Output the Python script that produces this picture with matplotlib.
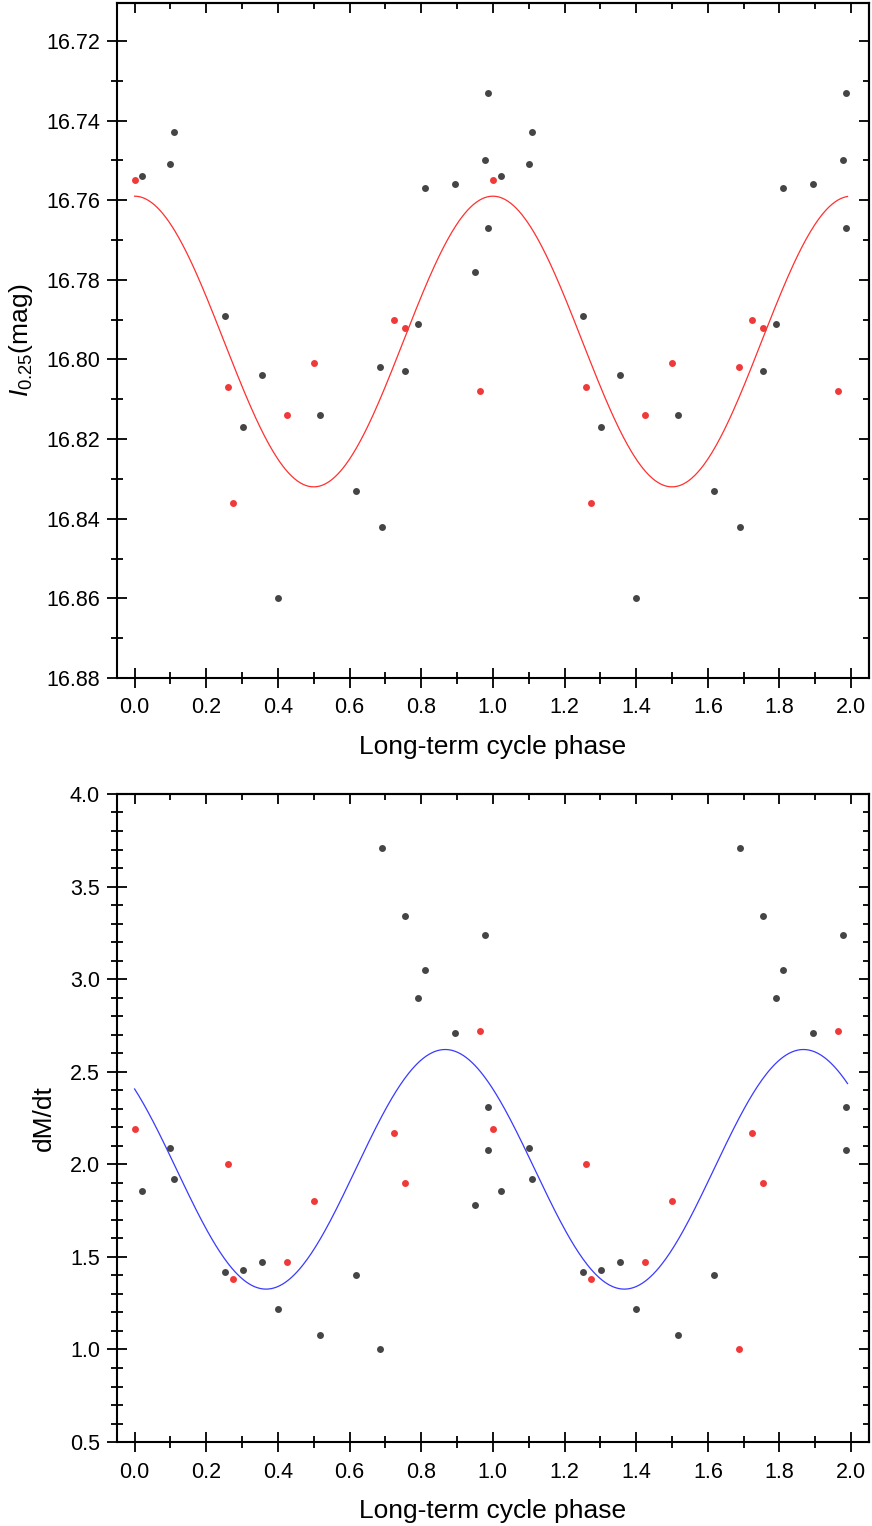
import matplotlib
matplotlib.use("Agg")
import matplotlib.pyplot as plt
from matplotlib.ticker import MultipleLocator
import numpy as np

plt.rcParams['font.family'] = ['Liberation Sans', 'DejaVu Sans']
plt.rcParams['mathtext.fontset'] = 'custom'
plt.rcParams['mathtext.rm'] = 'Liberation Sans'
plt.rcParams['mathtext.it'] = 'Liberation Sans:italic'

# black points: long-term phase, I_0.25 magnitude, dM/dt
phase_black = [0.022, 0.100, 0.109, 0.251, 0.302, 0.355, 0.399, 0.517, 0.617, 0.686,
               0.690, 0.754, 0.791, 0.810, 0.894, 0.950, 0.978, 0.986, 0.986,
               1.022, 1.100, 1.109, 1.251, 1.302, 1.355, 1.399, 1.517, 1.617,
               1.690, 1.754, 1.791, 1.810, 1.894, 1.978, 1.986, 1.986]
mag_black = [16.754, 16.751, 16.743, 16.789, 16.817, 16.804, 16.860, 16.814, 16.833, 16.802,
             16.842, 16.803, 16.791, 16.757, 16.756, 16.778, 16.750, 16.733, 16.767,
             16.754, 16.751, 16.743, 16.789, 16.817, 16.804, 16.860, 16.814, 16.833,
             16.842, 16.803, 16.791, 16.757, 16.756, 16.750, 16.733, 16.767]
dmdt_black = [1.855, 2.09, 1.92, 1.42, 1.43, 1.47, 1.22, 1.08, 1.40, 1.00,
              3.71, 3.34, 2.90, 3.05, 2.71, 1.78, 3.24, 2.31, 2.08,
              1.855, 2.09, 1.92, 1.42, 1.43, 1.47, 1.22, 1.08, 1.40,
              3.71, 3.34, 2.90, 3.05, 2.71, 3.24, 2.31, 2.08]

# red points
phase_red = [0.000, 0.260, 0.274, 0.425, 0.500, 0.723, 0.754, 0.964, 1.000,
             1.260, 1.274, 1.425, 1.500, 1.686, 1.723, 1.754, 1.964]
mag_red = [16.755, 16.807, 16.836, 16.814, 16.801, 16.790, 16.792, 16.808, 16.755,
           16.807, 16.836, 16.814, 16.801, 16.802, 16.790, 16.792, 16.808]
dmdt_red = [2.19, 2.00, 1.38, 1.47, 1.80, 2.17, 1.90, 2.72, 2.19,
            2.00, 1.38, 1.47, 1.80, 1.00, 2.17, 1.90, 2.72]

# sine fits (mean, semi-amplitude, phase of maximum)
mag_fit = (16.7955, -0.0365, 0.0)
dmdt_fit = (1.973, 0.647, 0.867)

xticks = [0.0, 0.2, 0.4, 0.6, 0.8, 1.0, 1.2, 1.4, 1.6, 1.8, 2.0]

c_black = '#454545'
c_red = '#f03a3a'

fig = plt.figure(figsize=(8.72, 15.26), dpi=100)
ax1 = fig.add_axes([0.1338, 0.5557, 0.8628, 0.4423])
ax2 = fig.add_axes([0.1338, 0.0550, 0.8628, 0.4247])

ph = np.linspace(0, 1.99, 500)


def style(ax, ymaj, ymin):
    ax.set_xlim(-0.05, 2.05)
    ax.set_xticks(xticks)
    ax.set_xticklabels(['%.1f' % t for t in xticks])
    ax.xaxis.set_minor_locator(MultipleLocator(0.1))
    ax.yaxis.set_major_locator(MultipleLocator(ymaj))
    ax.yaxis.set_minor_locator(MultipleLocator(ymin))
    for s in ax.spines.values():
        s.set_linewidth(1.5)
    ax.tick_params(which='major', direction='inout', length=14, width=1.3,
                   labelsize=15.5, top=False, right=False)
    ax.tick_params(which='minor', direction='inout', length=8, width=1.3,
                   top=False, right=False)
    ax.tick_params(axis='x', which='major', pad=7)
    ax.tick_params(axis='y', which='major', pad=5)
    # inward ticks on top and right
    sx = ax.secondary_xaxis('top')
    sx.set_xticks(xticks)
    sx.xaxis.set_minor_locator(MultipleLocator(0.1))
    sx.tick_params(which='major', direction='in', length=7.5, width=1.3, labeltop=False)
    sx.tick_params(which='minor', direction='in', length=4.5, width=1.3)
    sx.spines['top'].set_linewidth(1.5)
    sy = ax.secondary_yaxis('right')
    sy.yaxis.set_major_locator(MultipleLocator(ymaj))
    sy.yaxis.set_minor_locator(MultipleLocator(ymin))
    sy.tick_params(which='major', direction='in', length=7.5, width=1.3, labelright=False)
    sy.tick_params(which='minor', direction='in', length=4.5, width=1.3)
    sy.spines['right'].set_linewidth(1.5)
    ax.set_xlabel('Long-term cycle phase', fontsize=19, labelpad=12)


# top panel
ax1.plot(ph, mag_fit[0] + mag_fit[1] * np.cos(2 * np.pi * (ph - mag_fit[2])),
         color='#ff3030', lw=0.9, zorder=2)
ax1.plot(phase_black, mag_black, 'o', color=c_black, ms=5, mew=0, zorder=3)
ax1.plot(phase_red, mag_red, 'o', color=c_red, ms=5, mew=0, zorder=3)
ax1.set_ylim(16.88, 16.7105)
style(ax1, 0.02, 0.01)
ax1.set_ylabel(r'$I_{0.25}$(mag)', fontsize=19, labelpad=8)

# bottom panel
ax2.plot(ph, dmdt_fit[0] + dmdt_fit[1] * np.cos(2 * np.pi * (ph - dmdt_fit[2])),
         color='#3a3aff', lw=0.9, zorder=2)
ax2.plot(phase_black, dmdt_black, 'o', color=c_black, ms=5, mew=0, zorder=3)
ax2.plot(phase_red, dmdt_red, 'o', color=c_red, ms=5, mew=0, zorder=3)
ax2.set_ylim(0.5, 4.0)
style(ax2, 0.5, 0.1)
ax2.set_ylabel('dM/dt', fontsize=19, labelpad=10)

fig.savefig('out.png', dpi=100)
